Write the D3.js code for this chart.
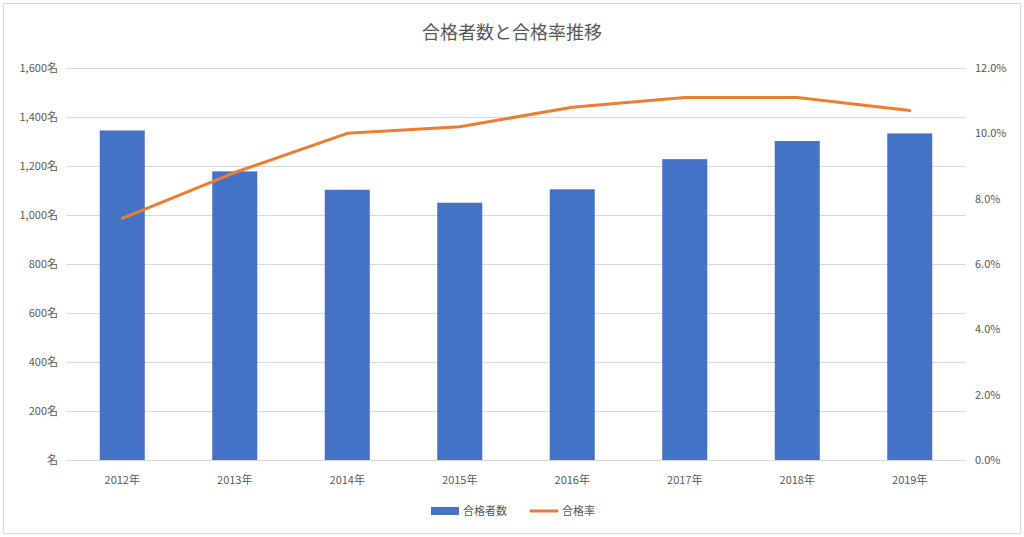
<!DOCTYPE html>
<html><head><meta charset="utf-8">
<script src="https://cdn.jsdelivr.net/npm/d3@7"></script>
<style>body{margin:0;background:#fff;font-family:"Noto Sans CJK JP",sans-serif;}</style>
</head><body>
<svg id="chart" width="1024" height="537"></svg>
<script>
var years = ["2012年","2013年","2014年","2015年","2016年","2017年","2018年","2019年"];
var passers = [1345, 1178, 1103, 1050, 1105, 1228, 1302, 1333];
var rates = [7.4, 8.8, 10.0, 10.2, 10.8, 11.1, 11.1, 10.7];
var leftTicks = [0, 200, 400, 600, 800, 1000, 1200, 1400, 1600];
var rightTicks = [0, 2, 4, 6, 8, 10, 12];

var svg = d3.select("#chart");
var font = "'Noto Sans CJK JP', sans-serif";
svg.append("rect").attr("x", 3.5).attr("y", 3.5).attr("width", 1017).attr("height", 530)
  .attr("fill", "#fff").attr("stroke", "#d9d9d9");

var plotL = 66, plotR = 966, plotT = 68, plotB = 460;
var x = d3.scaleBand().domain(years).range([plotL, plotR]).paddingInner(0.6).paddingOuter(0.3);
var y = d3.scaleLinear().domain([0, 1600]).range([plotB, plotT]);
var y2 = d3.scaleLinear().domain([0, 12]).range([plotB, plotT]);

// grid
svg.append("g").selectAll("line").data(leftTicks).join("line")
  .attr("x1", plotL).attr("x2", plotR)
  .attr("y1", d => y(d) + 0.5).attr("y2", d => y(d) + 0.5)
  .attr("stroke", "#d9d9d9");

svg.append("g").selectAll("text").data(leftTicks).join("text")
  .attr("x", 58).attr("y", d => y(d) + 4).attr("text-anchor", "end")
  .attr("font-size", 11).attr("font-family", font).attr("fill", "#595959")
  .text(d => (d === 0 ? "" : d3.format(",")(d)) + "名");

svg.append("g").selectAll("text").data(rightTicks).join("text")
  .attr("x", 975).attr("y", d => y2(d) + 4)
  .attr("font-size", 11).attr("font-family", font).attr("fill", "#595959")
  .text(d => d.toFixed(1) + "%");

svg.append("g").selectAll("rect").data(passers).join("rect")
  .attr("x", (d, i) => x(years[i])).attr("width", x.bandwidth())
  .attr("y", d => y(d)).attr("height", d => plotB - y(d))
  .attr("fill", "#4472c4");

svg.append("g").selectAll("text").data(years).join("text")
  .attr("x", d => x(d) + x.bandwidth() / 2).attr("y", 484).attr("text-anchor", "middle")
  .attr("font-size", 11).attr("font-family", font).attr("fill", "#595959").text(d => d);

var line = d3.line().x((d, i) => x(years[i]) + x.bandwidth() / 2).y(d => y2(d));
svg.append("path").datum(rates).attr("d", line).attr("fill", "none")
  .attr("stroke", "#ed7d31").attr("stroke-width", 3).attr("stroke-linejoin", "round").attr("stroke-linecap", "round");

svg.append("text").attr("x", 512).attr("y", 39).attr("text-anchor", "middle")
  .attr("font-size", 18).attr("font-family", font).attr("fill", "#595959").text("合格者数と合格率推移");

// legend
var lg = svg.append("g");
lg.append("rect").attr("x", 431).attr("y", 507).attr("width", 28).attr("height", 8).attr("fill", "#4472c4");
lg.append("text").attr("x", 463).attr("y", 515).attr("font-size", 11).attr("font-family", font).attr("fill", "#595959").text("合格者数");
lg.append("line").attr("x1", 530).attr("x2", 558).attr("y1", 511).attr("y2", 511)
  .attr("stroke", "#ed7d31").attr("stroke-width", 3);
lg.append("text").attr("x", 562).attr("y", 515).attr("font-size", 11).attr("font-family", font).attr("fill", "#595959").text("合格率");
</script>
</body></html>
